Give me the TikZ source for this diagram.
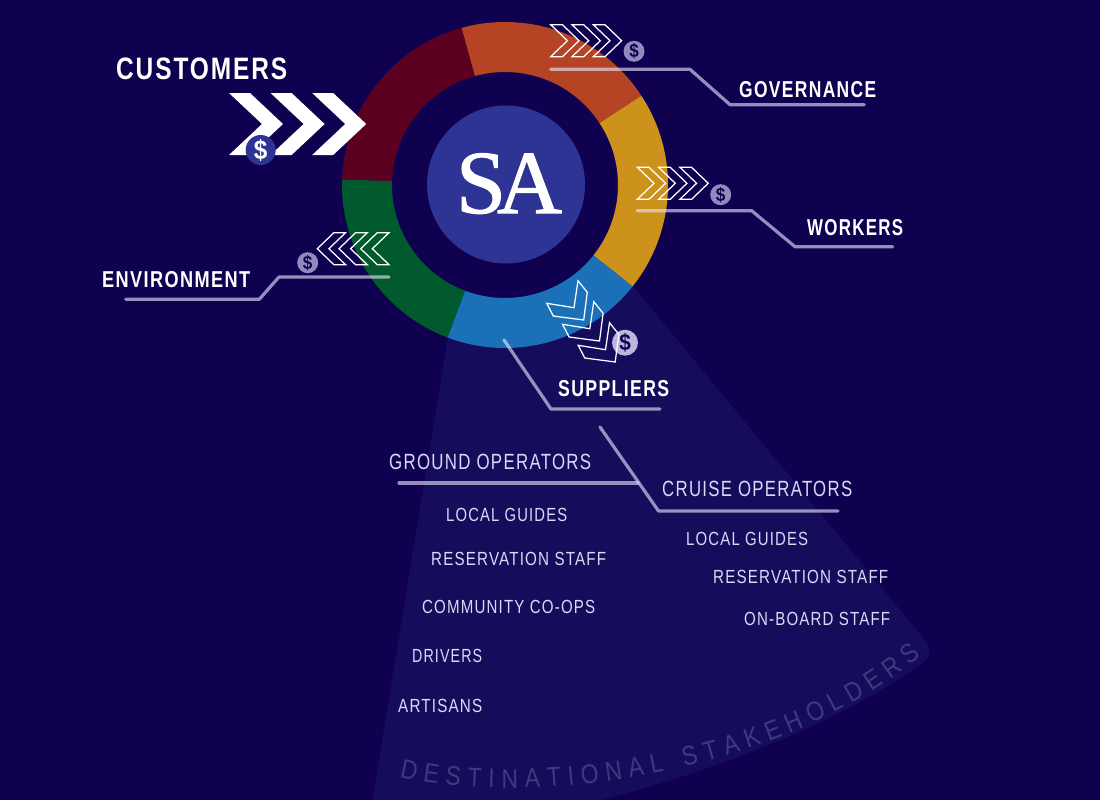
\documentclass[tikz,border=0pt]{standalone}
\usepackage{fontspec}
\usepackage{graphicx}
\usetikzlibrary{decorations.text}
\setmainfont{Liberation Sans}
\newfontfamily\lblfont[FakeStretch=0.78,LetterSpace=6]{Liberation Sans}
\newfontfamily\destfont[FakeStretch=0.85]{Liberation Sans}
\newfontfamily\serfont[FakeBold=1.2]{Liberation Serif}
\newfontfamily\coinfont[FakeStretch=0.9]{Liberation Sans}
\definecolor{bgc}{RGB}{16,0,80}
\definecolor{fanc}{RGB}{21,12,92}
\definecolor{corec}{RGB}{46,52,148}
\definecolor{dkred}{RGB}{92,0,34}
\definecolor{orred}{RGB}{180,68,36}
\definecolor{yelc}{RGB}{204,146,28}
\definecolor{bluc}{RGB}{26,113,184}
\definecolor{grnc}{RGB}{0,90,45}
\definecolor{linec}{RGB}{232,230,255}
\definecolor{softc}{RGB}{220,216,245}
\definecolor{coinc}{RGB}{143,139,190}
\definecolor{supcoinc}{RGB}{186,182,222}
\definecolor{destc}{RGB}{62,58,128}
\tikzset{
  leader/.style={draw=linec,draw opacity=.62,line width=3.2pt,line cap=round,line join=round},
  chevline/.style={draw=white,line width=1.25pt,line join=miter},
  headlbl/.style={font=\lblfont\bfseries,text=white},
  softlbl/.style={font=\lblfont,text=softc},
  coin/.style={circle,fill=coinc,inner sep=0,minimum size=21pt,text=bgc,font=\coinfont\bfseries\fontsize{19}{19}\selectfont},
  bigcoin/.style={circle,fill=corec,inner sep=0,minimum size=30pt,text=white,font=\coinfont\bfseries\fontsize{27}{27}\selectfont},
}
\newcommand\lbl[7]{\node[anchor=base west,inner sep=0,#6] (#1) at (#2,#3) {\fontsize{#5}{#5}\selectfont\resizebox{#4pt}{\height}{#7}};}
\newcommand\seg[3]{\fill[#1] (#2:163pt) arc (#2:#3:163pt) -- (#3:113pt) arc (#3:#2:113pt) -- cycle;}
\newcommand\chevpath{(0,0) -- (11.7,0) -- (28.3,16) -- (11.7,32) -- (0,32) -- (16.7,16) -- cycle}
\begin{document}
\begin{tikzpicture}[x=1pt,y=-1pt]
\useasboundingbox (0,0) rectangle (1100,800);
\clip (0,0) rectangle (1100,800);
\fill[bgc] (0,0) rectangle (1100,800);
% fan
\fill[fanc] (632,285) -- (924,639) .. controls (930,646) and (932,653) .. (925,661)
  .. controls (860,710) and (740,765) .. (590,803) -- (372,803) -- (448,337) -- cycle;
% ring
\begin{scope}[shift={(505,185)},x=1pt,y=1pt]
\seg{orred}{33.2}{105.5}
\seg{yelc}{-38.5}{33.2}
\seg{bluc}{-110.7}{-38.5}
\seg{grnc}{178}{249.3}
\seg{dkred}{105.5}{178}
\end{scope}
\node[circle,fill=corec,minimum size=158pt,inner sep=0] (core) at (506,184.5) {};
\node[anchor=base,inner sep=0,text=white,font=\serfont\fontsize{90}{90}\selectfont] (satext) at (509,213) {S\kern-0.1em A};
% customers chevrons
\foreach \d in {0,41.6,83.2}
  \fill[white,shift={(\d,0)}] (229,93) -- (250,93) -- (283,124) -- (250,155) -- (229,155) -- (262,124) -- cycle;
\node[bigcoin] (custcoin) at (260.7,150) {\$};
% outlined chevrons
\foreach \d in {0,21.3,42.6}
  \draw[chevline,shift={(550.7+\d,24.7)}] \chevpath;
\foreach \d in {0,21.3,42.6}
  \draw[chevline,shift={(637.3+\d,167.3)}] \chevpath;
\foreach \d in {0,21.7,43.4}
  \draw[chevline,shift={(389-\d,232.7)},xscale=-1] \chevpath;
\node[coin] (govcoin) at (634,51.3) {\$};
\node[coin] (workcoin) at (720.7,194.7) {\$};
\node[coin] (envcoin) at (307.7,262.7) {\$};
\node[coin,minimum size=26pt,fill=supcoinc,font=\coinfont\bfseries\fontsize{23}{23}\selectfont] (supcoin) at (625,342.7) {\$};
\foreach \dx/\dy in {0/0,15.8/21,31.5/42}
  \draw[chevline,shift={(\dx,\dy)}] (578,280.7) -- (587.3,292.3) -- (583.7,320) -- (553.3,316) -- (546.7,303.3) -- (574,307.7) -- cycle;
% leaders
\coordinate (g1) at (550.7,69.3); \coordinate (g2) at (690,69.3); \coordinate (g3) at (730,104.7); \coordinate (g4) at (864.3,104.7);
\coordinate (w1) at (637.3,210.7); \coordinate (w2) at (751.7,210.7); \coordinate (w3) at (795,246.7); \coordinate (w4) at (892.7,246.7);
\coordinate (e1) at (389,277); \coordinate (e2) at (279,277); \coordinate (e3) at (259.3,299.3); \coordinate (e4) at (125.7,299.3);
\coordinate (s1) at (504,340); \coordinate (s2) at (551,409); \coordinate (s3) at (660,409);
\coordinate (c1) at (600,427); \coordinate (c2) at (658.5,511); \coordinate (c3) at (838,511);
\coordinate (o1) at (399,483); \coordinate (o2) at (638,483);
\draw[leader] (g1) -- (g2) -- (g3) -- (g4);
\draw[leader] (w1) -- (w2) -- (w3) -- (w4);
\draw[leader] (e1) -- (e2) -- (e3) -- (e4);
\draw[leader] (s1) -- (s2) -- (s3);
\draw[leader] (c1) -- (c2) -- (c3);
\draw[leader] (o1) -- (o2);
% labels
\lbl{cust}{116}{79}{171}{31}{headlbl}{CUSTOMERS}
\lbl{gov}{739}{97.5}{137}{23}{headlbl}{GOVERNANCE}
\lbl{work}{807}{235}{96}{23}{headlbl}{WORKERS}
\lbl{env}{102}{287}{148}{23}{headlbl}{ENVIRONMENT}
\lbl{sup}{558}{396}{111}{23}{headlbl}{SUPPLIERS}
\lbl{gop}{389}{469}{202}{22}{softlbl}{GROUND OPERATORS}
\lbl{cop}{662}{496}{190}{22}{softlbl}{CRUISE OPERATORS}
\lbl{lg1}{446}{521}{121}{19}{softlbl}{LOCAL GUIDES}
\lbl{rs1}{431}{565}{175}{19}{softlbl}{RESERVATION STAFF}
\lbl{cc}{422}{613}{173}{19}{softlbl}{COMMUNITY CO-OPS}
\lbl{dr}{412}{662}{70}{19}{softlbl}{DRIVERS}
\lbl{ar}{398}{712}{84}{19}{softlbl}{ARTISANS}
\lbl{lg2}{686}{545}{122}{19}{softlbl}{LOCAL GUIDES}
\lbl{rs2}{713}{583.5}{175}{19}{softlbl}{RESERVATION STAFF}
\lbl{ob}{744}{625}{146}{19}{softlbl}{ON-BOARD STAFF}
% curved caption
\coordinate (d1) at (399.5,777);
\coordinate (d2) at (921,656);
\path[decorate,decoration={text along path,text align=fit to path,
  text={|\destfont\fontsize{27}{27}\selectfont\color{destc}|DESTINATIONAL STAKEHOLDERS}}]
  (d1) .. controls (530,808) and (780,775) .. (d2);
\end{tikzpicture}
\end{document}
